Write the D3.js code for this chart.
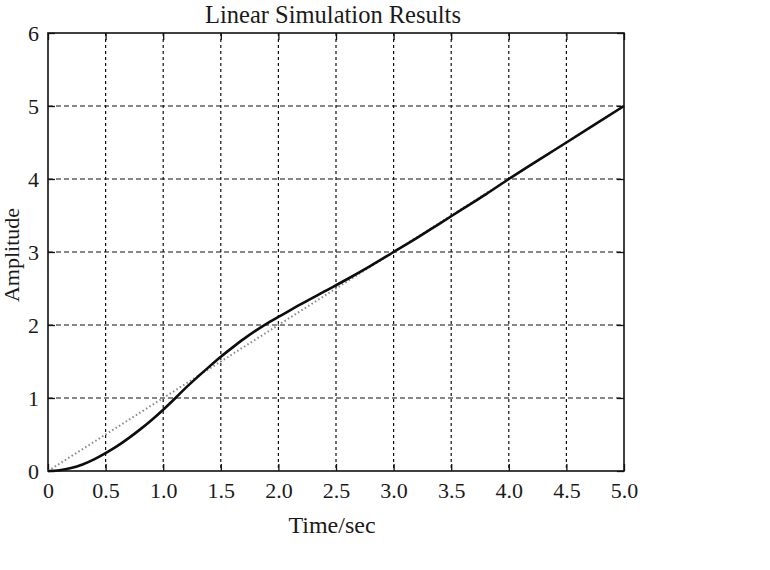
<!DOCTYPE html>
<html>
<head>
<meta charset="utf-8">
<script src="https://cdn.jsdelivr.net/npm/d3@7"></script>
<style>
  html, body { margin: 0; padding: 0; background: #ffffff; }
  svg { display: block; }
  text { font-family: "Liberation Serif", "DejaVu Serif", serif; fill: #1a1a1a; }
</style>
</head>
<body>
<svg id="chart" width="770" height="570"></svg>
<script>
// ---- data ----
const title = "Linear Simulation Results";
const xLabel = "Time/sec";
const yLabel = "Amplitude";
const xTicks = [0, 0.5, 1.0, 1.5, 2.0, 2.5, 3.0, 3.5, 4.0, 4.5, 5.0];
const xTickLabels = ["0", "0.5", "1.0", "1.5", "2.0", "2.5", "3.0", "3.5", "4.0", "4.5", "5.0"];
const yTicks = [0, 1, 2, 3, 4, 5, 6];
const yTickLabels = ["0", "1", "2", "3", "4", "5", "6"];
// input ramp (dotted)
const inputTime = [0, 5];
const inputValue = [0, 5];
// system response (solid)
const responseTime = [0, 0.1, 0.2, 0.3, 0.4, 0.5, 0.6, 0.7, 0.8, 0.9, 1.0, 1.1, 1.2, 1.3, 1.4, 1.5, 1.6, 1.7, 1.8, 1.9, 2.0, 2.2, 2.4, 2.6, 2.8, 3.0, 3.2, 3.4, 3.6, 3.8, 4.0, 4.5, 5.0];
const responseValue = [0, 0.01, 0.04, 0.09, 0.16, 0.245, 0.34, 0.45, 0.57, 0.70, 0.84, 0.99, 1.145, 1.29, 1.43, 1.565, 1.69, 1.81, 1.92, 2.02, 2.11, 2.29, 2.46, 2.63, 2.81, 3.00, 3.19, 3.39, 3.59, 3.79, 4.00, 4.50, 5.00];

// ---- layout ----
const svg = d3.select("#chart");
const pL = 48, pR = 624, pT = 33, pB = 471;
const x = d3.scaleLinear().domain([0, 5]).range([pL, pR]);
const y = d3.scaleLinear().domain([0, 6]).range([pB, pT]);

// grid
const grid = svg.append("g");
grid.selectAll("line.vx").data(xTicks.slice(1, -1)).enter().append("line")
  .attr("x1", d => x(d)).attr("x2", d => x(d)).attr("y1", pT).attr("y2", pB)
  .attr("stroke", "#111").attr("stroke-width", 1.2).attr("stroke-dasharray", "3,3");
grid.selectAll("line.hy").data(yTicks.slice(1, -1)).enter().append("line")
  .attr("x1", pL).attr("x2", pR).attr("y1", d => y(d)).attr("y2", d => y(d))
  .attr("stroke", "#111").attr("stroke-width", 1.2).attr("stroke-dasharray", "5,3");

// axes with inner ticks
const tickLen = 7;
const axB = svg.append("g").attr("transform", `translate(0,${pB})`)
  .call(d3.axisBottom(x).tickValues(xTicks).tickFormat((d, i) => xTickLabels[i]).tickSizeInner(-tickLen).tickSizeOuter(0));
const axT = svg.append("g").attr("transform", `translate(0,${pT})`)
  .call(d3.axisTop(x).tickValues(xTicks).tickFormat("").tickSizeInner(-tickLen).tickSizeOuter(0));
const axL = svg.append("g").attr("transform", `translate(${pL},0)`)
  .call(d3.axisLeft(y).tickValues(yTicks).tickFormat((d, i) => yTickLabels[i]).tickSizeInner(-tickLen).tickSizeOuter(0).tickPadding(9));
const axR = svg.append("g").attr("transform", `translate(${pR},0)`)
  .call(d3.axisRight(y).tickValues(yTicks).tickFormat("").tickSizeInner(-tickLen).tickSizeOuter(0));
[axB, axT, axL, axR].forEach(a => {
  a.select(".domain").remove();
  a.selectAll(".tick line").attr("stroke", "#111").attr("stroke-width", 1.3);
  a.selectAll("text").attr("font-family", "'Liberation Serif', serif").attr("font-size", 22).attr("fill", "#1a1a1a");
});
axB.selectAll("text").attr("dy", 0).attr("y", 27);
axL.selectAll("text").attr("dy", "0.35em");

// box
svg.append("rect").attr("x", pL).attr("y", pT).attr("width", pR - pL).attr("height", pB - pT)
  .attr("fill", "none").attr("stroke", "#111").attr("stroke-width", 1.6);

// lines
const ramp = inputTime.map((t, i) => [t, inputValue[i]]);
const resp = responseTime.map((t, i) => [t, responseValue[i]]);
const line = d3.line().x(d => x(d[0])).y(d => y(d[1]));
const smooth = d3.line().x(d => x(d[0])).y(d => y(d[1])).curve(d3.curveMonotoneX);
svg.append("path").attr("d", line(ramp)).attr("fill", "none")
  .attr("stroke", "#8a8a8a").attr("stroke-width", 2).attr("stroke-dasharray", "1.5,2.5");
svg.append("path").attr("d", smooth(resp)).attr("fill", "none")
  .attr("stroke", "#0d0d0d").attr("stroke-width", 2.6);

// texts
svg.append("text").attr("x", 333).attr("y", 23).attr("text-anchor", "middle")
  .attr("font-size", 24.5).text(title);
svg.append("text").attr("x", 332).attr("y", 533).attr("text-anchor", "middle")
  .attr("font-size", 24).text(xLabel);
svg.append("text").attr("transform", "translate(19,255) rotate(-90)").attr("text-anchor", "middle")
  .attr("font-size", 22).text(yLabel);
</script>
</body>
</html>
